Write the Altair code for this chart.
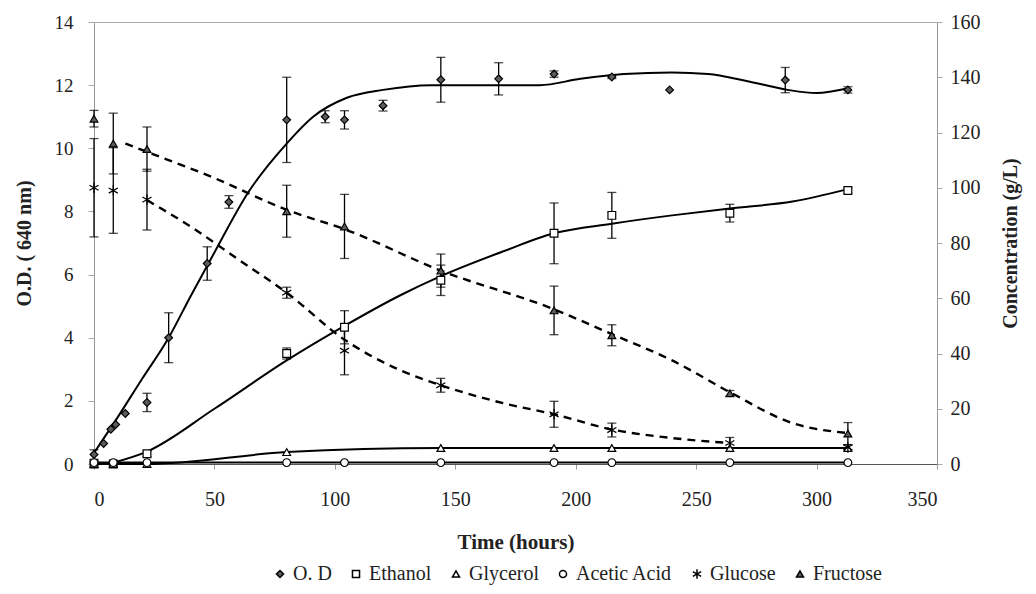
import altair as alt
import pandas as pd

SERIES = ["O. D", "Ethanol", "Glycerol", "Acetic Acid", "Glucose", "Fructose"]

# ---- O.D. (left axis) ----
od_t = [0, 4, 7, 9, 13, 22, 31, 47, 56, 80, 96, 104, 120, 144, 168, 191, 215, 239, 287, 313]
od_v = [0.3, 0.65, 1.1, 1.25, 1.6, 1.95, 4.0, 6.35, 8.3, 10.9, 11.0, 10.9, 11.35, 12.17, 12.2, 12.35, 12.26, 11.85, 12.16, 11.85]
od_e = [0.15, 0, 0, 0, 0, 0.29, 0.79, 0.53, 0.2, 1.35, 0.19, 0.29, 0.17, 0.71, 0.51, 0.1, 0.05, 0, 0.4, 0.1]

# O.D. fitted curve
od_fit_t = [0, 10, 20, 31, 40, 50, 64, 80, 91, 105, 120, 140, 160, 185, 202, 220, 240, 255, 270, 288, 300, 313]
od_fit_v = [0.35, 1.5, 2.7, 4.0, 5.3, 6.7, 8.6, 10.15, 11.0, 11.6, 11.85, 12.0, 12.0, 12.0, 12.2, 12.35, 12.4, 12.35, 12.15, 11.85, 11.75, 11.9]

# ---- Concentrations (right axis, g/L) ----
conc_t = [0, 8, 22, 80, 104, 144, 191, 215, 264, 313]
eth_v = [0, 0, 3.7, 40, 49.5, 66.5, 83.5, 90, 90.8, 99]
eth_e = [0, 0, 1, 2, 6, 5.5, 11, 8.3, 3.2, 1]
gly_t = [0, 8, 22, 80, 144, 191, 215, 264, 313]
gly_v = [0, 0, 0, 4.3, 5.8, 5.8, 5.8, 5.8, 5.8]
ace_t = [0, 8, 22, 80, 104, 144, 191, 215, 264, 313]
ace_v = [0.5, 0.5, 0.5, 0.5, 0.5, 0.5, 0.5, 0.5, 0.5, 0.5]
glu_v = [100, 99, 95.7, 62, 41, 28.5, 18, 12.3, 7.6, 6]
glu_e = [17.8, 15.5, 11, 2, 8.7, 2.5, 4.7, 2.5, 2, 1]
fru_v = [125, 116, 114, 91.5, 86, 70, 55.6, 46.6, 25.6, 11]
fru_e = [3, 11, 8, 9.4, 11.6, 6, 8.8, 3.8, 1, 4]

# fitted curves
eth_fit_t = [8, 22, 50, 80, 104, 127, 144, 170, 191, 215, 240, 264, 290, 313]
eth_fit_v = [0.5, 4.5, 20, 37.5, 50, 61, 68, 77, 83.5, 87, 90, 92.5, 95, 99.5]
glu_fit_t = [22, 40, 60, 80, 104, 127, 144, 170, 191, 215, 240, 264]
glu_fit_v = [95.5, 86, 74, 62, 45, 34, 28.5, 22, 18, 12.5, 9.4, 7.6]
fru_fit_t = [13, 22, 50, 80, 104, 144, 191, 215, 240, 264, 290, 313]
fru_fit_v = [116, 113, 103.5, 92, 85, 70, 56, 47, 37.5, 26, 14.8, 11.2]

SERIF = "Liberation Serif"
ASTERISK = "M0,-1.35L0,1.35M-1.17,-0.67L1.17,0.67M-1.17,0.67L1.17,-0.67"
SHAPES = ["diamond", "square", "triangle-up", "circle", ASTERISK, "triangle-up"]
FILLS = ["#5c5c5c", "white", "white", "white", "black", "#5c5c5c"]
STROKES = ["black"] * 6

# ---- tables ----
od_pts = pd.DataFrame({"t": od_t, "v": od_v, "e": od_e, "series": "O. D"})
od_pts["lo"] = od_pts["v"] - od_pts["e"]
od_pts["hi"] = od_pts["v"] + od_pts["e"]
od_err = od_pts[od_pts["e"] > 0]
od_fit = pd.DataFrame({"t": od_fit_t, "v": od_fit_v})

rows = []
for t, v, e in zip(conc_t, eth_v, eth_e):
    rows.append(dict(t=t, v=v, e=e, series="Ethanol"))
for t, v in zip(gly_t, gly_v):
    rows.append(dict(t=t, v=v, e=0, series="Glycerol"))
for t, v in zip(ace_t, ace_v):
    rows.append(dict(t=t, v=v, e=0, series="Acetic Acid"))
for t, v, e in zip(conc_t, glu_v, glu_e):
    rows.append(dict(t=t, v=v, e=e, series="Glucose"))
for t, v, e in zip(conc_t, fru_v, fru_e):
    rows.append(dict(t=t, v=v, e=e, series="Fructose"))
conc_pts = pd.DataFrame(rows)
conc_pts["lo"] = conc_pts["v"] - conc_pts["e"]
conc_pts["hi"] = conc_pts["v"] + conc_pts["e"]
conc_err = conc_pts[conc_pts["e"] > 0]

solid_fit = pd.concat([
    pd.DataFrame({"t": eth_fit_t, "v": eth_fit_v, "series": "Ethanol"}),
    pd.DataFrame({"t": gly_t, "v": gly_v, "series": "Glycerol"}),
    pd.DataFrame({"t": ace_t, "v": ace_v, "series": "Acetic Acid"}),
])
dash_fit = pd.concat([
    pd.DataFrame({"t": glu_fit_t, "v": glu_fit_v, "series": "Glucose"}),
    pd.DataFrame({"t": fru_fit_t, "v": fru_fit_v, "series": "Fructose"}),
])

# ---- encodings ----
x_enc = alt.X("t:Q", scale=alt.Scale(domain=[0, 350], nice=False),
              axis=alt.Axis(values=list(range(0, 351, 50)), title="Time (hours)",
                            labelFontSize=20, labelPadding=20, titleFontSize=21,
                            titlePadding=22, tickSize=5, domainColor="#555",
                            tickColor="#999", labelColor="#222"))

left_axis = alt.Axis(orient="left", values=list(range(0, 15, 2)), title="O.D. ( 640 nm)",
                     labelFontSize=19, labelPadding=15, tickSize=6, titleFontSize=20,
                     titlePadding=20, domainColor="#999", tickColor="#aaa", labelColor="#222")
right_axis = alt.Axis(orient="right", values=list(range(0, 161, 20)), title="Concentration (g/L)",
                      labelFontSize=20, labelPadding=8, tickSize=5, titleFontSize=20,
                      titlePadding=40, titleAngle=270, domainColor="#999", tickColor="#aaa",
                      labelColor="#222")

yl = lambda f: alt.Y(f, scale=alt.Scale(domain=[0, 14], nice=False), axis=left_axis)
yr = lambda f: alt.Y(f, scale=alt.Scale(domain=[0, 160], nice=False), axis=right_axis)

legend = alt.Legend(orient="none", legendX=176, legendY=542, direction="horizontal",
                    title=None, labelFont=SERIF, labelFontSize=20, labelColor="#222",
                    symbolStrokeWidth=1.5, symbolSize=50, padding=0,
                    columnPadding=14, labelOffset=3, labelLimit=200)
shape_enc = alt.Shape("series:N", scale=alt.Scale(domain=SERIES, range=SHAPES), legend=legend)
fill_enc = alt.Fill("series:N", scale=alt.Scale(domain=SERIES, range=FILLS), legend=legend)
stroke_enc = alt.Stroke("series:N", scale=alt.Scale(domain=SERIES, range=STROKES), legend=legend)

# ---- left group ----
od_line = alt.Chart(od_fit).mark_line(color="black", strokeWidth=2, interpolate="monotone").encode(
    x=x_enc, y=yl("v:Q"))
od_rule = alt.Chart(od_err).mark_rule(color="black", strokeWidth=1.3).encode(
    x=x_enc, y=yl("lo:Q"), y2="hi:Q")
od_cap_lo = alt.Chart(od_err).mark_tick(color="black", orient="horizontal", size=9, thickness=1.3).encode(
    x=x_enc, y=yl("lo:Q"))
od_cap_hi = alt.Chart(od_err).mark_tick(color="black", orient="horizontal", size=9, thickness=1.3).encode(
    x=x_enc, y=yl("hi:Q"))
od_points = alt.Chart(od_pts).mark_point(filled=False, strokeWidth=1.2, size=60, opacity=1).encode(
    x=x_enc, y=yl("v:Q"), shape=shape_enc, fill=fill_enc, stroke=stroke_enc)
left = alt.layer(od_line, od_rule, od_cap_lo, od_cap_hi, od_points)

# ---- right group ----
c_solid = alt.Chart(solid_fit).mark_line(color="black", strokeWidth=2, interpolate="monotone").encode(
    x=x_enc, y=yr("v:Q"), detail="series:N")
c_dash = alt.Chart(dash_fit).mark_line(color="black", strokeWidth=2.4, strokeDash=[8, 6],
                                       interpolate="monotone").encode(
    x=x_enc, y=yr("v:Q"), detail="series:N")
c_rule = alt.Chart(conc_err).mark_rule(color="black", strokeWidth=1.3).encode(
    x=x_enc, y=yr("lo:Q"), y2="hi:Q")
c_cap_lo = alt.Chart(conc_err).mark_tick(color="black", orient="horizontal", size=9, thickness=1.3).encode(
    x=x_enc, y=yr("lo:Q"))
c_cap_hi = alt.Chart(conc_err).mark_tick(color="black", orient="horizontal", size=9, thickness=1.3).encode(
    x=x_enc, y=yr("hi:Q"))
c_points = alt.Chart(conc_pts).mark_point(filled=False, strokeWidth=1.2, size=60, opacity=1).encode(
    x=x_enc, y=yr("v:Q"), shape=shape_enc, fill=fill_enc, stroke=stroke_enc)
right = alt.layer(c_solid, c_dash, c_rule, c_cap_lo, c_cap_hi, c_points)

chart = alt.layer(left, right).resolve_scale(y="independent").properties(
    width=843, height=442,
    autosize=alt.AutoSizeParams(type="none"),
    padding={"left": 86, "top": 14, "right": 90, "bottom": 122},
).configure(font=SERIF).configure_axis(
    labelFont=SERIF, titleFont=SERIF, titleFontWeight="bold", titleColor="#222", grid=False
).configure_view(stroke="#aaa", strokeWidth=1)

chart.save("out.html", embed_options={"renderer": "svg", "actions": False})
